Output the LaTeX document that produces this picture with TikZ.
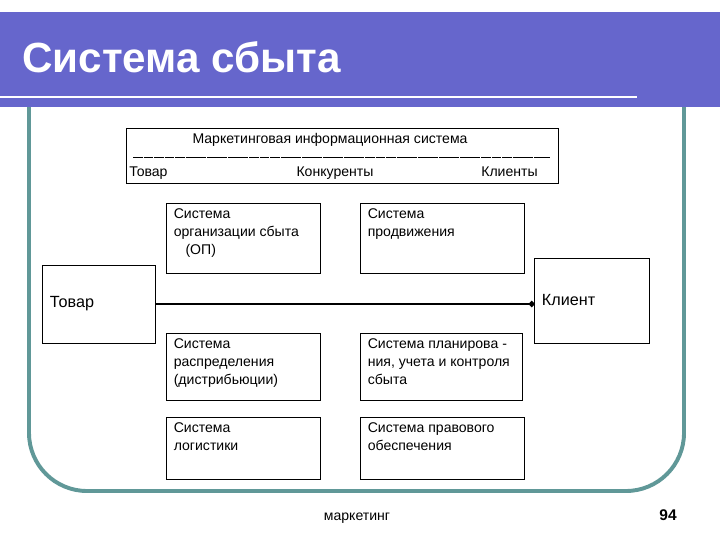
\documentclass[tikz,border=0pt]{standalone}
\usepackage{fontspec}
\setmainfont{Liberation Sans}
\usepackage{tikz}
\usetikzlibrary{arrows.meta}
\definecolor{barblue}{RGB}{102,102,204}
\definecolor{frameteal}{RGB}{96,152,152}

\begin{document}
\begin{tikzpicture}[x=0.025cm, y=-0.025cm,
  font=\fontsize{10}{12.5}\selectfont,
  sysbox/.style={rectangle, draw=black, line width=0.7pt, inner sep=0pt},
  boxtext/.style={anchor=north west, align=left, inner xsep=5pt, inner ysep=4.5pt},
  endbox/.style={rectangle, draw=black, line width=0.7pt, inner xsep=5pt, align=left, font=\fontsize{11.5}{14}\selectfont}]
\useasboundingbox (0,0) rectangle (720,540);

% frame and title bar
\draw[frameteal, line width=2.8pt, rounded corners=1.45cm] (29,100) -- (29,491) -- (684,491) -- (684,100);
\fill[barblue] (0,12) rectangle (720,107);
\draw[white, line width=2.1pt] (0,97) -- (637,97);
\node[anchor=base west, text=white, inner sep=0pt, font=\fontsize{30}{36}\bfseries\selectfont] (title) at (22,72) {Система сбыта};

% information system
\node[sysbox, minimum width=10.775cm, minimum height=1.375cm] (mis) at (342.5,155.5) {};
\node (misT) at (330,140) {Маркетинговая информационная система};
\draw[line width=0.5pt, dash pattern=on 7pt off 0.5pt] (133,157) -- (550,157);
\node[anchor=base west, inner sep=0pt] (misA) at (129,176) {Товар};
\node[anchor=base, inner sep=0pt] (misB) at (335,176) {Конкуренты};
\node[anchor=base east, inner sep=0pt] (misC) at (538,176) {Клиенты};

% subsystems
\node[sysbox, minimum width=3.825cm, minimum height=1.75cm] (op) at (243.5,238) {};
\node[boxtext] (opT) at (op.north west) {Система\\организации сбыта\\\ \ \ (ОП)};
\node[sysbox, minimum width=4.075cm, minimum height=1.75cm] (prod) at (442.5,238) {};
\node[boxtext] (prodT) at (prod.north west) {Система\\продвижения};
\node[sysbox, minimum width=3.825cm, minimum height=1.675cm] (rasp) at (243.5,366.5) {};
\node[boxtext] (raspT) at (rasp.north west) {Система\\распределения\\(дистрибьюции)};
\node[sysbox, minimum width=4.025cm, minimum height=1.675cm] (plan) at (441.5,366.5) {};
\node[boxtext] (planT) at (plan.north west) {Система планирова -\\ния, учета и контроля\\сбыта};
\node[sysbox, minimum width=3.825cm, minimum height=1.55cm] (log) at (243.5,448) {};
\node[boxtext] (logT) at (log.north west) {Система\\логистики};
\node[sysbox, minimum width=4.075cm, minimum height=1.55cm] (prav) at (442.5,448) {};
\node[boxtext] (pravT) at (prav.north west) {Система правового\\обеспечения};

% goods to client
\node[endbox, minimum width=2.8cm, minimum height=1.95cm, text width=2.45cm] (tovar) at (99,304) {Товар};
\node[endbox, minimum width=2.85cm, minimum height=2.125cm, text width=2.5cm] (client) at (592,300.5) {Клиент};
\draw[line width=2pt, -{Circle[length=4pt]}] (tovar.east) -- (tovar.east -| client.west);

% footer
\node[font=\fontsize{10}{12}\selectfont] (foot) at (357,518) {маркетинг};
\node[font=\fontsize{11}{13}\bfseries\selectfont] (page) at (668,515) {94};
\end{tikzpicture}
\end{document}
